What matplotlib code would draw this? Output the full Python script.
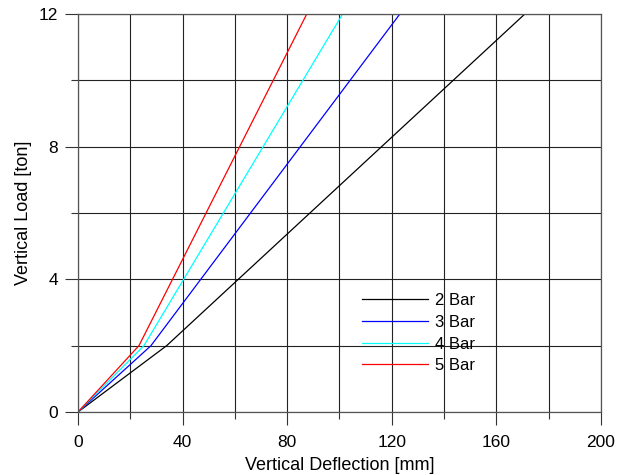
import matplotlib
matplotlib.use("Agg")
import matplotlib.pyplot as plt
from matplotlib.ticker import MultipleLocator

plt.rcParams['font.family'] = ['Liberation Sans', 'DejaVu Sans']

# deflection (mm) / load (ton) points
x_2bar = [0, 33.9, 170.9]
x_3bar = [0, 27.9, 123.1]
x_4bar = [0, 25.2, 101.2]
x_5bar = [0, 23.3, 87.5]
load = [0, 2, 12]

fig = plt.figure(figsize=(6.24, 4.75), dpi=100)
ax = fig.add_axes([0.125, 0.1326, 0.838, 0.8379])

ax.plot(x_2bar, load, color='black', lw=0.9, label='2 Bar')
ax.plot(x_3bar, load, color='blue', lw=0.9, label='3 Bar')
ax.plot(x_4bar, load, color='cyan', lw=0.9, label='4 Bar')
ax.plot(x_5bar, load, color='red', lw=0.9, label='5 Bar')

ax.set_xlim(0, 200)
ax.set_ylim(0, 12)
ax.xaxis.set_major_locator(MultipleLocator(40))
ax.xaxis.set_minor_locator(MultipleLocator(20))
ax.yaxis.set_major_locator(MultipleLocator(4))
ax.yaxis.set_minor_locator(MultipleLocator(2))

ax.grid(which='both', color='#222222', lw=0.8)
ax.set_axisbelow(True)
ax.tick_params(which='major', direction='out', length=9.5, width=0.8, labelsize=12.5,
               color='#333333', pad=5)
ax.tick_params(axis='x', which='major', pad=7)
ax.tick_params(which='minor', direction='out', length=5, width=0.8, color='#333333')
for s in ax.spines.values():
    s.set_color('#555555')
    s.set_linewidth(0.9)

ax.set_xlabel('Vertical Deflection [mm]', fontsize=13, labelpad=5)
ax.set_ylabel('Vertical Load [ton]', fontsize=13, labelpad=5)

leg = ax.legend(loc='upper left', bbox_to_anchor=(0.53, 0.315), frameon=False,
                fontsize=12, handlelength=4.0, handletextpad=0.4,
                labelspacing=0.4, borderaxespad=0)

fig.savefig('out.png', dpi=100)
